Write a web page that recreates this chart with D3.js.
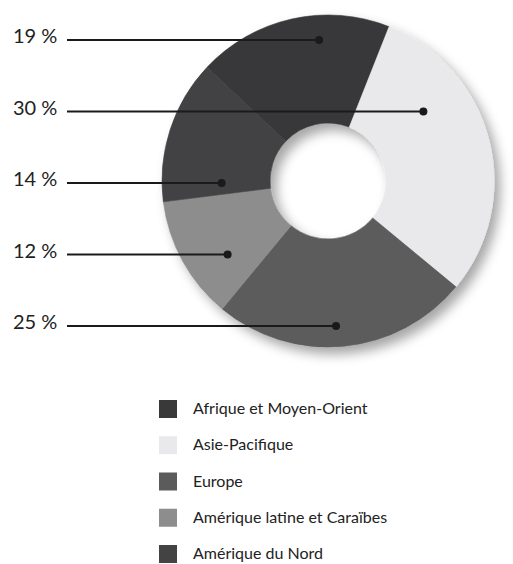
<!DOCTYPE html>
<html>
<head>
<meta charset="utf-8">
<script src="https://cdn.jsdelivr.net/npm/d3@7"></script>
<style>
  body { margin: 0; background: #fff; }
  text { font-family: Lato, "Open Sans", sans-serif; fill: #222; }
</style>
</head>
<body>
<svg id="chart" width="513" height="564"></svg>
<script>
// regions, clockwise from the top-left boundary
const regions = ['Afrique et Moyen-Orient', 'Asie-Pacifique', 'Europe', 'Amérique latine et Caraïbes', 'Amérique du Nord'];
const shares = [19, 30, 25, 12, 14];
const shades = ['#39393a', '#e9e9eb', '#5b5b5c', '#8d8d8e', '#434344'];
// order of the percentage labels, top to bottom
const labelOrder = ['Afrique et Moyen-Orient', 'Asie-Pacifique', 'Amérique du Nord', 'Amérique latine et Caraïbes', 'Europe'];

const cx = 328, cy = 181, outerR = 166, innerR = 58;
const svg = d3.select('#chart');

const defs = svg.append('defs');
const f = defs.append('filter').attr('id', 'shadow')
  .attr('x', '-20%').attr('y', '-20%').attr('width', '150%').attr('height', '150%');
f.append('feDropShadow')
  .attr('dx', 6).attr('dy', 7).attr('stdDeviation', 6)
  .attr('flood-color', '#000').attr('flood-opacity', 0.35);

const data = regions.map((r, i) => ({ region: r, share: shares[i], color: shades[i] }));

// first boundary sits up-left, at -46.8deg
const a0 = -46.8 * Math.PI / 180;
const pie = d3.pie().value(d => d.share).sort(null)
  .startAngle(a0)
  .endAngle(a0 + 2 * Math.PI);
const arcs = pie(data);
const arc = d3.arc().innerRadius(innerR).outerRadius(outerR);

const g = svg.append('g').attr('transform', `translate(${cx},${cy})`);
g.append('g').attr('filter', 'url(#shadow)')
  .selectAll('path')
  .data(arcs)
  .join('path')
  .attr('d', arc)
  .attr('fill', d => d.data.color)
  .attr('stroke', d => d.data.color)
  .attr('stroke-width', 0.6);

// label rows
const labelY = d3.scalePoint().domain(labelOrder).range([40, 326]);
const lineStart = 67;

// find the horizontal chord of a slice at a given y, put dot a bit right of its middle
function dotX(a, yAbs) {
  const y = yAbs - cy;
  let lo = null, hi = null;
  for (let x = -outerR; x <= outerR; x += 0.5) {
    const r = Math.hypot(x, y);
    if (r < innerR || r > outerR) continue;
    let ang = Math.atan2(x, -y);
    while (ang < a.startAngle) ang += 2 * Math.PI;
    while (ang >= a.startAngle + 2 * Math.PI) ang -= 2 * Math.PI;
    if (ang <= a.endAngle) {
      if (lo === null) lo = x;
      hi = x;
    }
  }
  return cx + lo + 0.55 * (hi - lo);
}

const labels = svg.append('g').selectAll('g')
  .data(labelOrder.map(name => arcs.find(a => a.data.region === name)))
  .join('g');

labels.append('line')
  .attr('x1', lineStart)
  .attr('x2', d => dotX(d, labelY(d.data.region)))
  .attr('y1', d => labelY(d.data.region))
  .attr('y2', d => labelY(d.data.region))
  .attr('stroke', '#1a1a1a')
  .attr('stroke-width', 2);

labels.append('circle')
  .attr('cx', d => dotX(d, labelY(d.data.region)))
  .attr('cy', d => labelY(d.data.region))
  .attr('r', 4)
  .attr('fill', '#1a1a1a');

labels.append('text')
  .attr('x', 13)
  .attr('y', d => labelY(d.data.region) + 3)
  .attr('font-size', 20)
  .text(d => `${d.data.share} %`);

// legend
const legendY = d3.scalePoint().domain(regions).range([409, 554]);
const legend = svg.append('g').selectAll('g')
  .data(data)
  .join('g')
  .attr('transform', d => `translate(159,${legendY(d.region)})`);

legend.append('rect')
  .attr('x', 0).attr('y', -9)
  .attr('width', 18).attr('height', 18)
  .attr('fill', d => d.color);

legend.append('text')
  .attr('x', 34)
  .attr('y', 5)
  .attr('font-size', 16)
  .text(d => d.region);
</script>
</body>
</html>
